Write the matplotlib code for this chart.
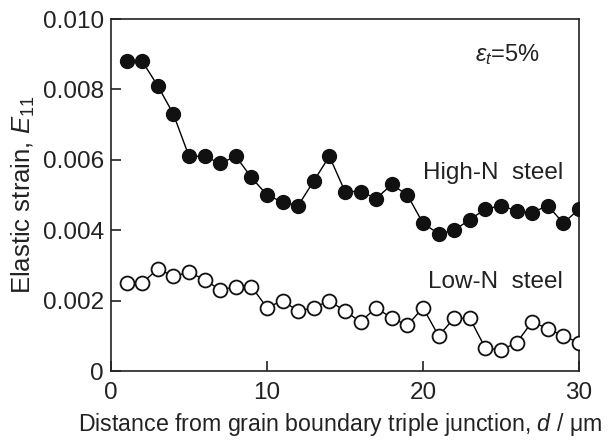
import matplotlib
matplotlib.use("Agg")
import matplotlib.pyplot as plt
from matplotlib.ticker import FixedLocator

plt.rcParams['font.family'] = ['Liberation Sans', 'DejaVu Sans']
plt.rcParams['mathtext.fontset'] = 'custom'
plt.rcParams['mathtext.rm'] = 'Liberation Sans'
plt.rcParams['mathtext.it'] = 'Liberation Sans:italic'
plt.rcParams['mathtext.bf'] = 'Liberation Sans:bold'

distance = list(range(1, 31))
high_n = [0.0088, 0.0088, 0.0081, 0.0073, 0.0061, 0.0061, 0.0059, 0.0061, 0.0055, 0.0050,
          0.0048, 0.0047, 0.0054, 0.0061, 0.0051, 0.0051, 0.0049, 0.0053, 0.0050, 0.0042,
          0.0039, 0.0040, 0.0043, 0.0046, 0.0047, 0.00455, 0.0045, 0.0047, 0.0042, 0.0046]
low_n = [0.0025, 0.0025, 0.0029, 0.0027, 0.0028, 0.0026, 0.0023, 0.0024, 0.0024, 0.0018,
         0.0020, 0.0017, 0.0018, 0.0020, 0.0017, 0.0014, 0.0018, 0.0015, 0.0013, 0.0018,
         0.0010, 0.0015, 0.0015, 0.00065, 0.0006, 0.0008, 0.0014, 0.0012, 0.0010, 0.0008]
x_ticks = [0, 10, 20, 30]
y_ticks = [0, 0.002, 0.004, 0.006, 0.008, 0.010]
y_tick_labels = ["0", "0.002", "0.004", "0.006", "0.008", "0.010"]

fig = plt.figure(figsize=(6.12, 4.43), dpi=100)
ax = fig.add_axes([0.1814, 0.1625, 0.7646, 0.7945])

ax.plot(distance, high_n, '-', color='black', lw=1.0, marker='o', ms=10,
        mfc='#111111', mec='#111111', zorder=3)
ax.plot(distance, low_n, '-', color='black', lw=1.0, marker='o', ms=10,
        mfc='white', mec='#111111', mew=1.3, zorder=3)

ax.set_xlim(0, 30)
ax.set_ylim(0, 0.010)
ax.xaxis.set_major_locator(FixedLocator(x_ticks))
ax.yaxis.set_major_locator(FixedLocator(y_ticks))
ax.set_yticklabels(y_tick_labels)
ax.tick_params(direction='in', length=7, width=1.2, labelsize=17.5, colors='#222222')
ax.tick_params(axis='x', pad=8)
ax.tick_params(axis='y', pad=5)
for s in ax.spines.values():
    s.set_linewidth(1.2)
    s.set_color('#222222')

ax.set_xlabel(r"Distance from grain boundary triple junction, $\mathit{d}$ / μm",
              fontsize=16.7, labelpad=3, color='#222222')
ax.xaxis.set_label_coords(0.489, -0.115)
ax.set_ylabel(r"Elastic strain, $\mathit{E}_{11}$", fontsize=18.5, labelpad=4, color='#222222')

ax.text(0.917, 0.898, r"$\mathit{\varepsilon}_{\mathit{t}}$=5%", transform=ax.transAxes,
        ha='right', va='center', fontsize=17, color='#222222')
ax.text(0.966, 0.5625, "High-N  steel", transform=ax.transAxes, ha='right', va='center',
        fontsize=17.5, color='#222222')
ax.text(0.966, 0.253, "Low-N  steel", transform=ax.transAxes, ha='right', va='center',
        fontsize=17.5, color='#222222')

fig.savefig("out.png", dpi=100)
